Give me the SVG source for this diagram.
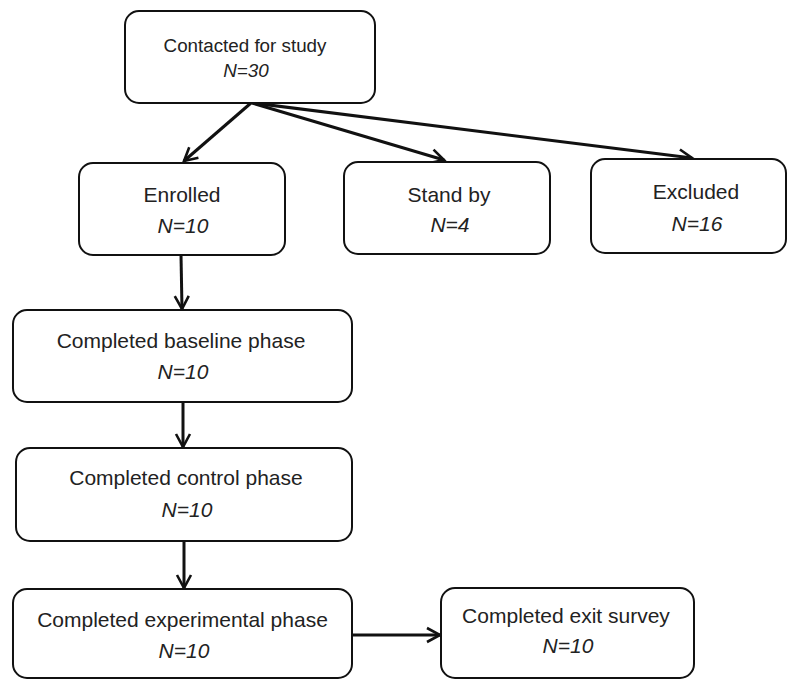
<svg xmlns="http://www.w3.org/2000/svg" width="787" height="680" viewBox="0 0 787 680">
<defs>
<marker id="arr" markerUnits="userSpaceOnUse" markerWidth="20" markerHeight="20" viewBox="-16 -10 20 20" refX="0" refY="0" orient="auto">
<path d="M-13,-7 L0,0 L-13,7" fill="none" stroke="#111" stroke-width="2.6" stroke-linejoin="miter"/>
</marker>
<style>
.box{fill:#fff;stroke:#111;stroke-width:2}
.t{font-family:"Liberation Sans",Arial,sans-serif;font-size:21px;fill:#222;text-anchor:middle}
.n{font-style:italic}
.s{font-size:18.8px}
.c{fill:none;stroke:#111;stroke-width:3;marker-end:url(#arr)}
</style>
</defs>
<rect width="787" height="680" fill="#fff"/>
<g id="connectors">
<line class="c" x1="251" y1="103" x2="184" y2="161"/>
<line class="c" x1="252" y1="103" x2="444" y2="160"/>
<line class="c" x1="253" y1="103" x2="692" y2="158"/>
<line class="c" x1="181" y1="255" x2="182" y2="309"/>
<line class="c" x1="183" y1="402" x2="183" y2="447"/>
<line class="c" x1="184" y1="541" x2="184" y2="588"/>
<line class="c" x1="352" y1="635" x2="440" y2="635"/>
</g>
<g id="contacted">
<rect class="box" x="125" y="11" width="250" height="92" rx="14"/>
<text class="t s" x="245" y="52">Contacted for study</text>
<text class="t s n" x="246" y="77">N=30</text>
</g>
<g id="enrolled">
<rect class="box" x="79" y="163" width="206" height="92" rx="14"/>
<text class="t" x="182" y="202">Enrolled</text>
<text class="t n" x="183" y="233">N=10</text>
</g>
<g id="standby">
<rect class="box" x="344" y="162" width="206" height="92" rx="14"/>
<text class="t" x="449" y="202">Stand by</text>
<text class="t n" x="450" y="232">N=4</text>
</g>
<g id="excluded">
<rect class="box" x="591" y="159" width="195" height="94" rx="14"/>
<text class="t" x="696" y="199">Excluded</text>
<text class="t n" x="697" y="231">N=16</text>
</g>
<g id="baseline">
<rect class="box" x="13" y="310" width="339" height="92" rx="14"/>
<text class="t" x="181" y="348">Completed baseline phase</text>
<text class="t n" x="183" y="379">N=10</text>
</g>
<g id="control">
<rect class="box" x="16" y="448" width="336" height="93" rx="14"/>
<text class="t" x="186" y="485">Completed control phase</text>
<text class="t n" x="187" y="517">N=10</text>
</g>
<g id="experimental">
<rect class="box" x="13" y="589" width="339" height="89" rx="14"/>
<text class="t" x="182.5" y="627">Completed experimental phase</text>
<text class="t n" x="184" y="658">N=10</text>
</g>
<g id="exit">
<rect class="box" x="441" y="588" width="253" height="90" rx="14"/>
<text class="t" x="566" y="623">Completed exit survey</text>
<text class="t n" x="568" y="653">N=10</text>
</g>
</svg>
